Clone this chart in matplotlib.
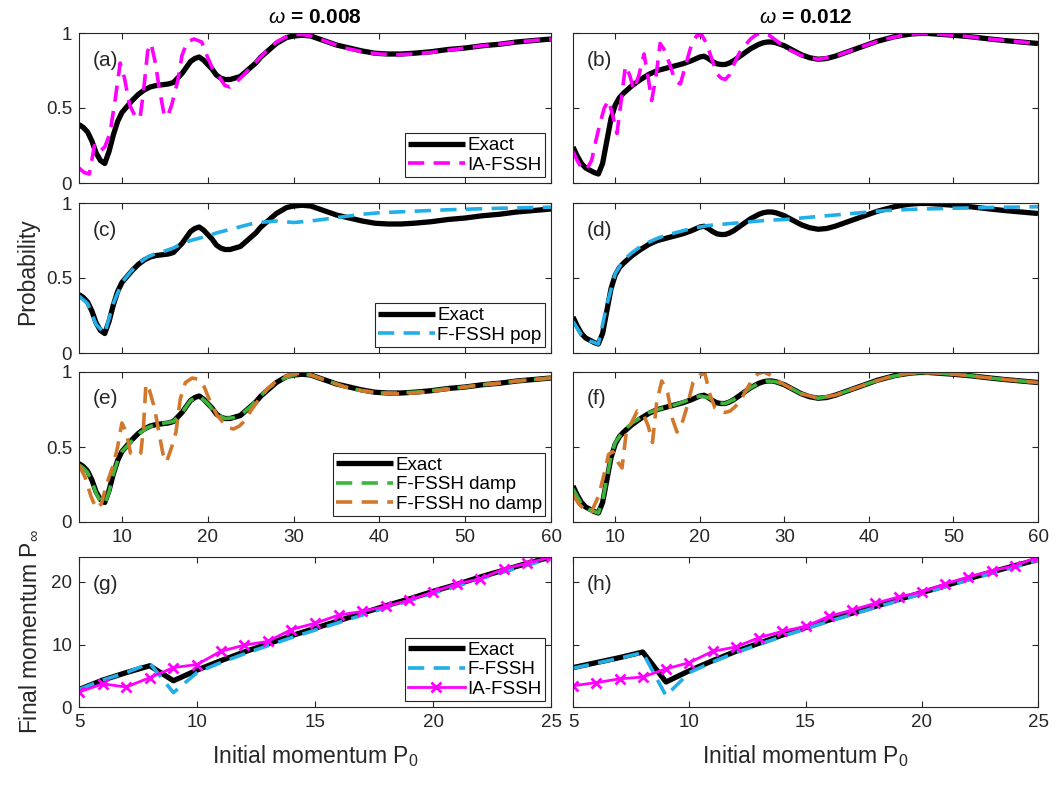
import matplotlib
matplotlib.use('Agg')
import matplotlib.pyplot as plt

plt.rcParams['font.family'] = ['Liberation Sans', 'DejaVu Sans']
plt.rcParams['mathtext.fontset'] = 'custom'
plt.rcParams['mathtext.rm'] = 'Liberation Sans'
plt.rcParams['mathtext.it'] = 'Liberation Sans:italic'
plt.rcParams['mathtext.bf'] = 'Liberation Sans:bold'

# ---- omega = 0.008, probabilities ----
p_ex8 = [5, 5.5, 6, 6.5, 7, 7.5, 8, 8.5, 9, 9.5, 10, 10.6, 11.2, 11.9, 12.6, 13.3, 14, 14.7, 15.4, 16,
         16.5, 17, 17.5, 18, 18.5, 19, 19.5, 20, 20.5, 21, 21.5, 22, 22.6, 23.2, 23.8, 24.4, 25, 25.6, 26.2, 26.8,
         27.4, 28, 28.6, 29.2, 30, 31, 32, 33, 34, 35, 36.5, 38, 39.5, 41, 42.5, 44, 46, 48, 50, 52,
         54, 56, 58, 60]
v_ex8 = [0.39, 0.37, 0.34, 0.28, 0.20, 0.15, 0.13, 0.21, 0.32, 0.41, 0.47, 0.51, 0.55, 0.59, 0.62, 0.64, 0.65, 0.655, 0.66, 0.67,
         0.70, 0.73, 0.77, 0.81, 0.83, 0.84, 0.82, 0.79, 0.76, 0.72, 0.70, 0.69, 0.69, 0.70, 0.71, 0.74, 0.77, 0.80, 0.84, 0.87,
         0.90, 0.93, 0.95, 0.97, 0.98, 0.985, 0.98, 0.96, 0.94, 0.92, 0.90, 0.88, 0.865, 0.86, 0.86, 0.865, 0.875, 0.89, 0.90, 0.915,
         0.925, 0.94, 0.95, 0.96]

p_ia8 = [5, 5.6, 6.2, 6.8, 7.4, 8.0, 8.6, 9.2, 9.8, 10.3, 10.9, 11.5, 12.1, 12.5, 13.0, 13.4, 13.9, 14.3, 14.9, 15.3,
         15.8, 16.5, 17.0, 17.6, 18.4, 19.3, 19.9, 20.5, 21.2, 22.0, 22.6, 23.3, 24.0, 25, 26, 27, 28, 29, 30, 31,
         32, 34, 36, 38, 40, 42, 44, 46, 48, 50, 52, 54, 56, 58, 60]
v_ia8 = [0.10, 0.07, 0.06, 0.25, 0.21, 0.24, 0.33, 0.55, 0.80, 0.70, 0.52, 0.45, 0.43, 0.60, 0.88, 0.93, 0.80, 0.65, 0.46, 0.44,
         0.52, 0.68, 0.85, 0.94, 0.96, 0.94, 0.85, 0.77, 0.72, 0.65, 0.64, 0.67, 0.71, 0.77, 0.83, 0.89, 0.94, 0.97, 0.99, 0.99,
         0.98, 0.94, 0.90, 0.875, 0.86, 0.855, 0.86, 0.87, 0.885, 0.90, 0.915, 0.925, 0.94, 0.95, 0.96]

p_pop8 = [5, 6, 7, 8, 9, 10, 11, 12, 13, 14, 15, 16, 17, 18, 19, 20, 21, 22, 23, 24,
          25, 26, 27, 28, 29, 30, 32, 34, 36, 38, 40, 42, 44, 46, 48, 50, 52, 54, 56, 58, 60]
v_pop8 = [0.38, 0.33, 0.19, 0.13, 0.33, 0.47, 0.54, 0.60, 0.64, 0.665, 0.68, 0.70, 0.73, 0.75, 0.765, 0.78, 0.80, 0.815, 0.83, 0.845,
          0.86, 0.87, 0.875, 0.88, 0.875, 0.87, 0.88, 0.895, 0.91, 0.925, 0.935, 0.94, 0.945, 0.95, 0.955, 0.958, 0.962, 0.965, 0.967, 0.97,
          0.972]

p_dmp8 = [5, 5.5, 6, 6.5, 7, 7.5, 8, 8.5, 9, 9.5, 10, 11, 12, 13, 14, 15, 16, 17, 18, 19, 20, 21, 22, 23, 24, 25,
          26, 27, 28, 29, 30, 31, 32, 34, 36, 38, 40, 42, 44, 46, 48, 50, 52, 54, 56, 58, 60]
v_dmp8 = [0.38, 0.36, 0.33, 0.27, 0.19, 0.14, 0.12, 0.20, 0.32, 0.41, 0.47, 0.53, 0.59, 0.63, 0.65, 0.66, 0.67, 0.73, 0.81, 0.84,
          0.79, 0.72, 0.69, 0.695, 0.72, 0.77, 0.83, 0.89, 0.93, 0.96, 0.98, 0.985, 0.98, 0.94, 0.90, 0.875, 0.86, 0.86, 0.865, 0.875,
          0.89, 0.90, 0.915, 0.925, 0.94, 0.95, 0.96]

p_nd8 = [5.0, 5.7, 6.4, 7.0, 7.6, 8.2, 9.0, 9.5, 10.0, 10.5, 11.0, 11.7, 12.2, 12.5, 12.8, 13.2, 13.8, 14.3, 14.8, 15.2,
         15.8, 16.3, 16.8, 17.4, 18.2, 19.0, 19.6, 20.3, 21.0, 21.7, 22.4, 23.0, 23.7, 24.4, 25, 26, 27, 28, 29, 30,
         31, 32, 34, 36, 38, 40, 42, 44, 46, 48, 50, 52, 54, 56, 58, 60]
v_nd8 = [0.38, 0.30, 0.17, 0.09, 0.12, 0.25, 0.38, 0.50, 0.66, 0.60, 0.46, 0.44, 0.46, 0.62, 0.92, 0.88, 0.76, 0.60, 0.45, 0.40,
         0.50, 0.60, 0.82, 0.93, 0.96, 0.95, 0.90, 0.80, 0.72, 0.67, 0.63, 0.62, 0.64, 0.68, 0.74, 0.82, 0.89, 0.94, 0.97, 0.99,
         0.99, 0.98, 0.94, 0.90, 0.875, 0.86, 0.855, 0.86, 0.87, 0.885, 0.90, 0.915, 0.925, 0.94, 0.95, 0.96]

# ---- omega = 0.012, probabilities ----
p_ex12 = [5, 5.5, 6, 6.5, 7, 7.5, 8, 8.5, 9, 9.5, 10, 10.5, 11, 12, 13, 14, 15, 16, 17, 18, 19, 20,
          20.5, 21, 21.5, 22, 22.5, 23, 23.5, 24, 24.5, 25, 25.5, 26, 26.5, 27, 27.5, 28, 28.5, 29,
          30, 31, 32, 33, 34, 35, 36, 37, 38, 39, 40, 41, 42, 43, 44, 45, 46, 47, 48,
          50, 52, 54, 56, 58, 60]
v_ex12 = [0.24, 0.18, 0.13, 0.10, 0.085, 0.07, 0.06, 0.13, 0.28, 0.43, 0.52, 0.57, 0.60, 0.65, 0.69, 0.725, 0.75, 0.765, 0.78, 0.795, 0.815, 0.84,
          0.845, 0.83, 0.81, 0.795, 0.79, 0.79, 0.80, 0.815, 0.835, 0.855, 0.875, 0.895, 0.91, 0.925, 0.935, 0.94, 0.94, 0.935,
          0.915, 0.885, 0.855, 0.835, 0.825, 0.83, 0.845, 0.865, 0.885, 0.905, 0.925, 0.945, 0.96, 0.975, 0.985, 0.993, 0.997, 0.997, 0.993,
          0.985, 0.975, 0.962, 0.95, 0.94, 0.93]

p_ia12 = [5.0, 5.5, 6.0, 6.6, 7.2, 7.7, 8.2, 8.7, 9.2, 9.7, 10.2, 10.7, 11.2, 11.7, 12.2, 12.8, 13.4, 13.9, 14.3, 14.8,
          15.3, 15.9, 16.5, 17.1, 17.7, 18.3, 19.0, 19.6, 20.2, 20.8, 21.4, 22.0, 22.5, 23.0, 23.5, 24.1, 24.7, 25.4, 26.0, 26.7,
          27.4, 28.1, 28.8, 29.5, 30.5, 32, 34, 36, 38, 40, 42, 44, 46, 48, 50, 52, 54, 56, 58, 60]
v_ia12 = [0.21, 0.15, 0.10, 0.09, 0.15, 0.28, 0.40, 0.50, 0.55, 0.45, 0.33, 0.55, 0.78, 0.72, 0.62, 0.72, 0.86, 0.70, 0.55, 0.70,
          0.93, 0.88, 0.78, 0.68, 0.66, 0.78, 0.92, 0.98, 0.99, 0.93, 0.83, 0.73, 0.70, 0.69, 0.72, 0.80, 0.87, 0.92, 0.96, 0.99,
          1.0, 0.99, 0.96, 0.93, 0.89, 0.85, 0.825, 0.845, 0.885, 0.925, 0.96, 0.985, 0.997, 0.993, 0.985, 0.975, 0.962, 0.95, 0.94, 0.93]

p_pop12 = [5, 6, 7, 8, 9, 10, 11, 12, 13, 14, 15, 16, 17, 18, 19, 20, 21, 22, 23, 24, 25, 26, 27, 28,
           30, 32, 34, 36, 38, 40, 42, 44, 46, 48, 50, 52, 54, 56, 58, 60]
v_pop12 = [0.21, 0.12, 0.08, 0.06, 0.32, 0.53, 0.62, 0.67, 0.71, 0.74, 0.765, 0.785, 0.80, 0.815, 0.83, 0.84, 0.85, 0.855, 0.86, 0.865,
           0.87, 0.875, 0.88, 0.885, 0.89, 0.90, 0.91, 0.92, 0.93, 0.94, 0.95, 0.955, 0.96, 0.962, 0.965, 0.967, 0.97, 0.972, 0.973, 0.975]

p_dmp12 = [5, 5.5, 6, 6.5, 7, 7.5, 8, 8.5, 9, 9.5, 10, 11, 12, 13, 14, 15, 16, 17, 18, 19, 20, 21, 22, 23, 24, 25,
           26, 27, 28, 29, 30, 32, 34, 36, 38, 40, 42, 44, 46, 48, 50, 52, 54, 56, 58, 60]
v_dmp12 = [0.22, 0.17, 0.12, 0.10, 0.08, 0.07, 0.06, 0.14, 0.29, 0.44, 0.53, 0.61, 0.66, 0.695, 0.73, 0.75, 0.765, 0.78, 0.80, 0.82,
           0.84, 0.83, 0.795, 0.79, 0.815, 0.855, 0.895, 0.925, 0.94, 0.935, 0.915, 0.855, 0.825, 0.845, 0.885, 0.925, 0.96, 0.985, 0.997, 0.993,
           0.985, 0.975, 0.962, 0.95, 0.94, 0.93]

p_nd12 = [5.0, 5.7, 6.4, 7.2, 8.0, 8.6, 9.2, 9.7, 10.3, 10.8, 11.3, 11.9, 12.6, 13.3, 13.9, 14.4, 14.9, 15.5, 16.2, 16.8,
          17.3, 17.9, 18.5, 19.2, 20.0, 20.6, 21.2, 21.8, 22.4, 23.0, 23.6, 24.2, 24.8, 25.5, 26.2, 26.9, 27.6, 28.3, 29.0, 30,
          31, 32, 34, 36, 38, 40, 42, 44, 46, 48, 50, 52, 54, 56, 58, 60]
v_nd12 = [0.18, 0.12, 0.08, 0.07, 0.17, 0.30, 0.45, 0.47, 0.40, 0.36, 0.60, 0.66, 0.74, 0.72, 0.64, 0.53, 0.80, 0.94, 0.86, 0.68,
          0.60, 0.66, 0.77, 0.93, 0.98, 0.99, 0.85, 0.76, 0.74, 0.73, 0.74, 0.77, 0.81, 0.88, 0.95, 0.99, 1.0, 0.98, 0.95, 0.915,
          0.885, 0.855, 0.825, 0.845, 0.885, 0.925, 0.96, 0.985, 0.997, 0.993, 0.985, 0.975, 0.962, 0.95, 0.94, 0.93]

# ---- final momentum ----
p0 = [5, 6, 7, 8, 9, 10, 11, 12, 13, 14, 15, 16, 17, 18, 19, 20, 21, 22, 23, 24, 25]
ex_g = [2.8, 4.3, 5.5, 6.6, 4.2, 5.9, 7.4, 8.8, 10.1, 11.4, 12.6, 13.8, 15.0, 16.2, 17.3, 18.5, 19.6, 20.8, 21.9, 23.0, 24.0]
ff_g = [2.8, 4.3, 5.5, 7.0, 2.3, 5.5, 7.1, 8.5, 9.8, 11.1, 12.3, 13.5, 14.7, 15.9, 17.0, 18.2, 19.3, 20.5, 21.6, 22.7, 23.8]
ia_g = [2.4, 3.7, 3.2, 4.7, 6.3, 6.8, 8.9, 9.9, 10.5, 12.4, 13.4, 14.7, 15.3, 16.1, 17.1, 18.4, 19.7, 20.5, 22.1, 23.0, 24.0]
ex_h = [6.3, 7.1, 7.9, 8.8, 4.0, 5.8, 7.4, 8.9, 10.2, 11.5, 12.7, 13.9, 15.0, 16.1, 17.2, 18.3, 19.4, 20.5, 21.6, 22.6, 23.6]
ff_h = [6.2, 7.0, 7.8, 8.7, 1.8, 5.5, 7.2, 8.7, 10.0, 11.3, 12.5, 13.7, 14.8, 15.9, 17.0, 18.1, 19.2, 20.3, 21.4, 22.4, 23.5]
ia_h = [3.4, 3.9, 4.5, 4.8, 6.1, 7.1, 8.9, 9.6, 11.1, 12.1, 12.9, 14.5, 15.5, 16.6, 17.6, 18.4, 19.7, 20.8, 21.8, 22.6, 24.0]

MAG = '#FF00FF'
CYA = '#22AEE6'
GRN = '#3DB53D'
ORA = '#D2782D'
EDGE = '#262626'

fig = plt.figure(figsize=(10.6, 7.86), dpi=100)
W, H = 1060., 786.


def box(x0, y0, x1, y1):
    return [x0 / W, 1 - y1 / H, (x1 - x0) / W, (y1 - y0) / H]


cols = [(79, 551), (573, 1038)]
rows = [(33, 183), (203, 353), (372, 522), (557, 707)]
axs = [[fig.add_axes(box(c[0], r[0], c[1], r[1])) for c in cols] for r in rows]

ex_kw = dict(color='k', lw=3.8, solid_capstyle='butt')


def dash(ax, x, y, c, lab):
    ax.plot(x, y, color=c, lw=2.6, dashes=(4.5, 2.6), label=lab)


def style(ax):
    ax.tick_params(direction='in', top=True, right=True, length=4, width=0.8,
                   labelsize=13.5, colors=EDGE, pad=5)
    for s in ax.spines.values():
        s.set_color(EDGE)
        s.set_linewidth(0.8)


def leg(ax):
    lg = ax.legend(loc='lower right', fontsize=13.5, fancybox=False, framealpha=1,
                   edgecolor=EDGE, borderaxespad=0.3, handlelength=3.0,
                   handletextpad=0.15, borderpad=0.2, labelspacing=0.12)
    lg.get_frame().set_linewidth(0.8)


# row a/b
axs[0][0].plot(p_ex8, v_ex8, label='Exact', **ex_kw)
dash(axs[0][0], p_ia8, v_ia8, MAG, 'IA-FSSH')
axs[0][1].plot(p_ex12, v_ex12, **ex_kw)
dash(axs[0][1], p_ia12, v_ia12, MAG, 'IA-FSSH')
leg(axs[0][0])

# row c/d
axs[1][0].plot(p_ex8, v_ex8, label='Exact', **ex_kw)
dash(axs[1][0], p_pop8, v_pop8, CYA, 'F-FSSH pop')
axs[1][1].plot(p_ex12, v_ex12, **ex_kw)
dash(axs[1][1], p_pop12, v_pop12, CYA, 'F-FSSH pop')
leg(axs[1][0])

# row e/f
axs[2][0].plot(p_ex8, v_ex8, label='Exact', **ex_kw)
dash(axs[2][0], p_dmp8, v_dmp8, GRN, 'F-FSSH damp')
dash(axs[2][0], p_nd8, v_nd8, ORA, 'F-FSSH no damp')
axs[2][1].plot(p_ex12, v_ex12, **ex_kw)
dash(axs[2][1], p_dmp12, v_dmp12, GRN, 'F-FSSH damp')
dash(axs[2][1], p_nd12, v_nd12, ORA, 'F-FSSH no damp')
leg(axs[2][0])

# row g/h
for ax, ex, ff, ia in [(axs[3][0], ex_g, ff_g, ia_g), (axs[3][1], ex_h, ff_h, ia_h)]:
    ax.plot(p0, ex, label='Exact', **ex_kw)
    dash(ax, p0, ff, CYA, 'F-FSSH')
    ax.plot(p0, ia, color=MAG, lw=2.0, marker='x', ms=7, mew=2.0, label='IA-FSSH')
leg(axs[3][0])

letters = 'abcdefgh'
for i in range(4):
    for j in range(2):
        ax = axs[i][j]
        style(ax)
        ax.text(0.03, 0.82, '(%s)' % letters[2 * i + j], transform=ax.transAxes,
                fontsize=15, va='center', ha='left', color=EDGE)
        if i < 3:
            ax.set_xlim(5, 60)
            ax.set_ylim(0, 1)
            ax.set_xticks([10, 20, 30, 40, 50, 60])
            ax.set_yticks([0, 0.5, 1])
            ax.set_yticklabels(['0', '0.5', '1'])
            if i < 2:
                ax.set_xticklabels([])
        else:
            ax.set_xlim(5, 25)
            ax.set_ylim(0, 24)
            ax.set_xticks([5, 10, 15, 20, 25])
            ax.set_yticks([0, 10, 20])
            ax.set_xlabel('Initial momentum P$_0$', fontsize=16.5, color=EDGE, labelpad=9)
        if j == 1:
            ax.set_yticklabels([])

axs[0][0].set_title(r'$\omega$ = 0.008', fontsize=15, fontweight='bold', pad=7)
axs[0][1].set_title(r'$\omega$ = 0.012', fontsize=15, fontweight='bold', pad=7)
axs[3][0].set_ylabel(r'Final momentum P$_\infty$', fontsize=16.5, color=EDGE, labelpad=8)
fig.text(28 / W, 1 - 272 / H, 'Probability', rotation=90, fontsize=16.5, color=EDGE,
         ha='center', va='center')

fig.savefig('out.png', dpi=100)
